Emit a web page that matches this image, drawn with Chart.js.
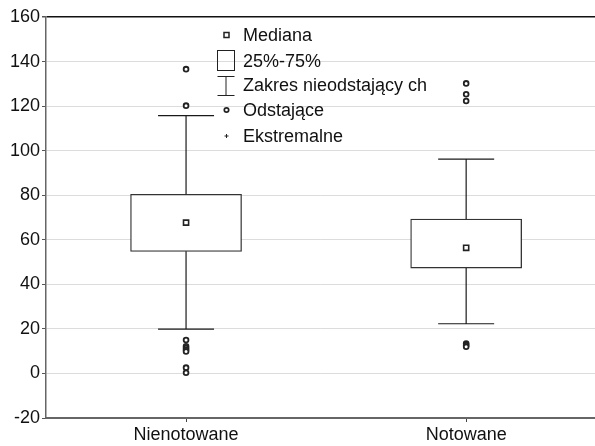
<!DOCTYPE html>
<html>
<head>
<meta charset="utf-8">
<script src="https://cdn.jsdelivr.net/npm/chart.js@4"></script>
<style>
  html, body { margin: 0; padding: 0; background: #fff; overflow: hidden; }
  #wrap { width: 595px; height: 446px; overflow: hidden; }
</style>
</head>
<body>
<div id="wrap"><canvas id="chart" width="601" height="446"></canvas></div>
<script>
// groups and box-plot statistics
const categories = ["Nienotowane", "Notowane"];
const medians = [67.7, 56.4];
const q1 = [54.8, 47.3];
const q3 = [80.4, 69.3];
const whiskerLo = [19.9, 22.3];
const whiskerHi = [115.7, 96.2];
const outliers = [
    [136.6, 120.2, 15, 12.2, 11.4, 10.6, 9.9, 2.6, 0.3],
    [130.2, 125.3, 122.3, 13.4, 12.7, 12]
];
const yTicks = [-20, 0, 20, 40, 60, 80, 100, 120, 140, 160];
const legendLabels = ["Mediana", "25%-75%", "Zakres nieodstający ch", "Odstające", "Ekstremalne"];

const FONT = 'Arial, "Liberation Sans", sans-serif';
const capHalf = 0.1;

const boxData = categories.map((c, i) => ({ x: i, y: [q1[i], q3[i]] }));
const medianData = categories.map((c, i) => ({ x: i, y: medians[i] }));
const outlierData = [];
outliers.forEach((list, i) => list.forEach(v => outlierData.push({ x: i, y: v })));

const whiskerData = [];
categories.forEach((c, i) => {
    whiskerData.push({ x: i, y: q3[i] }, { x: i, y: whiskerHi[i] }, { x: i, y: null });
    whiskerData.push({ x: i - capHalf, y: whiskerHi[i] }, { x: i + capHalf, y: whiskerHi[i] }, { x: i, y: null });
    whiskerData.push({ x: i, y: q1[i] }, { x: i, y: whiskerLo[i] }, { x: i, y: null });
    whiskerData.push({ x: i - capHalf, y: whiskerLo[i] }, { x: i + capHalf, y: whiskerLo[i] }, { x: i, y: null });
});

// legend drawn inside the plot, like the original
const legendPlugin = {
    id: "boxLegend",
    afterDraw(chart) {
        const ctx = chart.ctx;
        const sx = 226.5, tx = 243;
        const rows = [35, 61, 85, 110, 136];
        ctx.save();
        ctx.strokeStyle = "#222";
        ctx.fillStyle = "#fff";
        // median square
        ctx.lineWidth = 1.5;
        ctx.fillRect(sx - 2.5, rows[0] - 2.5, 5, 5);
        ctx.strokeRect(sx - 2.5, rows[0] - 2.5, 5, 5);
        // box
        ctx.lineWidth = 1;
        ctx.strokeRect(217.5, 50.5, 17, 20);
        // whisker
        ctx.beginPath();
        ctx.moveTo(217.5, 76.5); ctx.lineTo(234.5, 76.5);
        ctx.moveTo(226, 76.5); ctx.lineTo(226, 95.5);
        ctx.moveTo(217.5, 95.5); ctx.lineTo(234.5, 95.5);
        ctx.stroke();
        // outlier circle
        ctx.lineWidth = 1.7;
        ctx.beginPath();
        ctx.arc(sx, rows[3], 2.2, 0, Math.PI * 2);
        ctx.fill();
        ctx.stroke();
        // extreme plus
        ctx.lineWidth = 1;
        ctx.beginPath();
        ctx.moveTo(sx - 2, rows[4]); ctx.lineTo(sx + 2, rows[4]);
        ctx.moveTo(sx, rows[4] - 2); ctx.lineTo(sx, rows[4] + 2);
        ctx.stroke();

        ctx.fillStyle = "#111";
        ctx.font = "18px " + FONT;
        ctx.textBaseline = "middle";
        legendLabels.forEach((t, i) => ctx.fillText(t, tx, rows[i] + 1));
        ctx.restore();
    }
};

new Chart(document.getElementById("chart"), {
    data: {
        datasets: [
            {
                type: "scatter",
                data: medianData,
                pointStyle: "rect",
                pointRadius: 3.6,
                pointBackgroundColor: "#fff",
                pointBorderColor: "#222",
                pointBorderWidth: 1.6,
                order: 1
            },
            {
                type: "scatter",
                data: outlierData,
                pointStyle: "circle",
                pointRadius: 2.4,
                pointBackgroundColor: "#fff",
                pointBorderColor: "#222",
                pointBorderWidth: 1.8,
                order: 1
            },
            {
                type: "line",
                data: whiskerData,
                borderColor: "#1a1a1a",
                borderWidth: 1.2,
                pointRadius: 0,
                spanGaps: false,
                order: 2
            },
            {
                type: "bar",
                data: boxData,
                backgroundColor: "#fff",
                borderColor: "#333",
                borderWidth: 1.3,
                borderSkipped: false,
                barThickness: 111,
                order: 3
            }
        ]
    },
    options: {
        responsive: false,
        animation: false,
        layout: { padding: { top: 17, right: 0, left: 0, bottom: 0 } },
        plugins: {
            legend: { display: false },
            tooltip: { enabled: false }
        },
        scales: {
            x: {
                type: "linear",
                min: -0.5,
                max: 1.4607,
                offset: false,
                afterBuildTicks: s => { s.ticks = categories.map((c, i) => ({ value: i })); },
                afterFit: s => { s.height = 28; },
                ticks: {
                    callback: v => categories[v],
                    color: "#111",
                    font: { family: FONT, size: 18 },
                    padding: 2,
                    maxRotation: 0
                },
                grid: {
                    offset: false,
                    drawOnChartArea: false,
                    drawTicks: true,
                    tickLength: 4,
                    tickColor: "#444"
                },
                border: { color: "#666", width: 2 }
            },
            y: {
                min: -20,
                max: 160,
                afterBuildTicks: s => { s.ticks = yTicks.map(v => ({ value: v })); },
                afterFit: s => { s.width = 46; },
                ticks: {
                    color: "#111",
                    font: { family: FONT, size: 18 },
                    padding: 2
                },
                grid: {
                    color: ctx => ctx.tick && ctx.tick.value === 160 ? "#111" : "#dcdcdc",
                    lineWidth: ctx => ctx.tick && ctx.tick.value === 160 ? 1.5 : 1,
                    tickLength: 4,
                    tickColor: "#555"
                },
                border: { color: "#666", width: 1.5 }
            }
        }
    },
    plugins: [legendPlugin]
});
</script>
</body>
</html>
